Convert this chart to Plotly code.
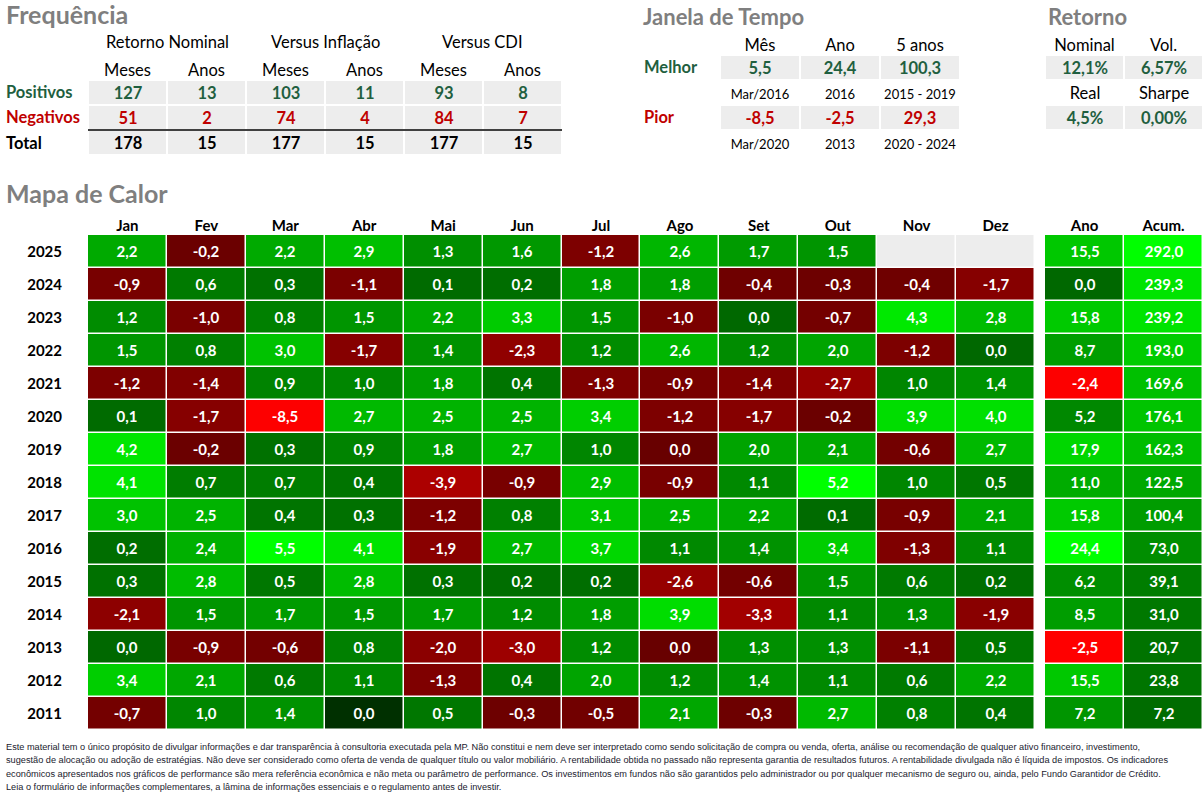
import plotly.graph_objects as go

W, H = 1203, 808
FONT = "Lato, 'Open Sans', sans-serif"
GREEN_TXT = "#1F5F3F"
RED_TXT = "#C00000"
GRAY_FILL = "#EDEDED"
TITLE_GRAY = "#7F7F7F"
TOP_FS = 16.5

# ---------------- data ----------------
months = ["Jan", "Fev", "Mar", "Abr", "Mai", "Jun", "Jul", "Ago", "Set", "Out", "Nov", "Dez"]
years = ["2025", "2024", "2023", "2022", "2021", "2020", "2019", "2018",
         "2017", "2016", "2015", "2014", "2013", "2012", "2011"]
# monthly returns (%); 0.01 / -0.01 = shown as "0,0" with positive / negative sign
monthly = [
    [2.2, -0.2, 2.2, 2.9, 1.3, 1.6, -1.2, 2.6, 1.7, 1.5, None, None],
    [-0.9, 0.6, 0.3, -1.1, 0.1, 0.2, 1.8, 1.8, -0.4, -0.3, -0.4, -1.7],
    [1.2, -1.0, 0.8, 1.5, 2.2, 3.3, 1.5, -1.0, 0.01, -0.7, 4.3, 2.8],
    [1.5, 0.8, 3.0, -1.7, 1.4, -2.3, 1.2, 2.6, 1.2, 2.0, -1.2, 0.01],
    [-1.2, -1.4, 0.9, 1.0, 1.8, 0.4, -1.3, -0.9, -1.4, -2.7, 1.0, 1.4],
    [0.1, -1.7, -8.5, 2.7, 2.5, 2.5, 3.4, -1.2, -1.7, -0.2, 3.9, 4.0],
    [4.2, -0.2, 0.3, 0.9, 1.8, 2.7, 1.0, -0.01, 2.0, 2.1, -0.6, 2.7],
    [4.1, 0.7, 0.7, 0.4, -3.9, -0.9, 2.9, -0.9, 1.1, 5.2, 1.0, 0.5],
    [3.0, 2.5, 0.4, 0.3, -1.2, 0.8, 3.1, 2.5, 2.2, 0.1, -0.9, 2.1],
    [0.2, 2.4, 5.5, 4.1, -1.9, 2.7, 3.7, 1.1, 1.4, 3.4, -1.3, 1.1],
    [0.3, 2.8, 0.5, 2.8, 0.3, 0.2, 0.2, -2.6, -0.6, 1.5, 0.6, 0.2],
    [-2.1, 1.5, 1.7, 1.5, 1.7, 1.2, 1.8, 3.9, -3.3, 1.1, 1.3, -1.9],
    [0.01, -0.9, -0.6, 0.8, -2.0, -3.0, 1.2, -0.01, 1.3, 1.3, -1.1, 0.5],
    [3.4, 2.1, 0.6, 1.1, -1.3, 0.4, 2.0, 1.2, 1.4, 1.1, 0.6, 2.2],
    [-0.7, 1.0, 1.4, 0.0, 0.5, -0.3, -0.5, 2.1, -0.3, 2.7, 0.8, 0.4],
]
summary_cols = ["Ano", "Acum."]
ano = [15.5, 0.01, 15.8, 8.7, -2.4, 5.2, 17.9, 11.0, 15.8, 24.4, 6.2, 8.5, -2.5, 15.5, 7.2]
acum = [292.0, 239.3, 239.2, 193.0, 169.6, 176.1, 162.3, 122.5, 100.4, 73.0, 39.1, 31.0, 20.7, 23.8, 7.2]

freq_groups = ["Retorno Nominal", "Versus Inflação", "Versus CDI"]
freq_sub = ["Meses", "Anos", "Meses", "Anos", "Meses", "Anos"]
freq_rows = ["Positivos", "Negativos", "Total"]
freq_pos = [127, 13, 103, 11, 93, 8]
freq_neg = [51, 2, 74, 4, 84, 7]
freq_total = [178, 15, 177, 15, 177, 15]

janela_cols = ["Mês", "Ano", "5 anos"]
janela_rows = ["Melhor", "Pior"]
melhor_vals = [5.5, 24.4, 100.3]
melhor_periodos = ["Mar/2016", "2016", "2015 - 2019"]
pior_vals = [-8.5, -2.5, 29.3]
pior_periodos = ["Mar/2020", "2013", "2020 - 2024"]

ret_labels_top = ["Nominal", "Vol."]
ret_labels_mid = ["Real", "Sharpe"]
ret_vals_top = ["12,1%", "6,57%"]
ret_vals_bot = ["4,5%", "0,00%"]

titles = ["Frequência", "Janela de Tempo", "Retorno", "Mapa de Calor"]

disclaimer = [
    "Este material tem o único propósito de divulgar informações e dar transparência à consultoria executada pela MP. Não constitui e nem deve ser interpretado como sendo solicitação de compra ou venda, oferta, análise ou recomendação de qualquer ativo financeiro, investimento,",
    "sugestão de alocação ou adoção de estratégias. Não deve ser considerado como oferta de venda de qualquer título ou valor mobiliário. A rentabilidade obtida no passado não representa garantia de resultados futuros. A rentabilidade divulgada não é líquida de impostos. Os indicadores",
    "econômicos apresentados nos gráficos de performance são mera referência econômica e não meta ou parâmetro de performance. Os investimentos em fundos não são garantidos pelo administrador ou por qualquer mecanismo de seguro ou, ainda, pelo Fundo Garantidor de Crédito.",
    "Leia o formulário de informações complementares, a lâmina de informações essenciais e o regulamento antes de investir.",
]


# ---------------- helpers ----------------
def fmt(v, d=1):
    s = f"{v:.{d}f}".replace(".", ",")
    if float(s.replace(",", ".")) == 0:
        s = s.lstrip("-")
    return s


def color_for(v, pos_k, neg_k):
    if v == 0:
        return "rgb(0,48,0)"
    if v > 0:
        return f"rgb(0,{min(255, round(104 + pos_k * v))},0)"
    return f"rgb({min(255, round(104 + neg_k * abs(v)))},0,0)"


def scale_from(vals, pos_k, neg_k):
    flat = [v for v in vals if v is not None]
    zmin, zmax = min(flat), max(flat)
    bps = [zmin, zmax] + [b for b in (-(151 / neg_k), -1e-3, 0.0, 1e-3, 151 / pos_k) if zmin < b < zmax]
    bps = sorted(set(bps))
    return zmin, zmax, [[(b - zmin) / (zmax - zmin), color_for(b, pos_k, neg_k)] for b in bps]


def span(t, color, bold=True, size=None):
    st = f"color:{color}"
    if size:
        st += f";font-size:{size}px"
    t = f"<b>{t}</b>" if bold else t
    return f"<span style='{st}'>{t}</span>"


def xd(a, b):
    return [a / W, b / W]


def yd(top, bottom):
    return [1 - bottom / H, 1 - top / H]


def yp(px):
    return 1 - px / H


fig = go.Figure()
GRAYSCALE = [[0, "white"], [1, GRAY_FILL]]

# ---------------- heat map (months) ----------------
flat_m = [v for row in monthly for v in row]
zmin, zmax, cs_m = scale_from(flat_m, 30, 17.5)
mask = [[1 if v is None else None for v in row] for row in monthly]
fig.add_trace(go.Heatmap(z=mask, x=months, y=years, colorscale=GRAYSCALE, zmin=0, zmax=1,
                         showscale=False, xgap=1.5, ygap=1.5, hoverinfo="skip",
                         xaxis="x", yaxis="y"))
fig.add_trace(go.Heatmap(
    z=monthly, x=months, y=years, colorscale=cs_m, zmin=zmin, zmax=zmax, showscale=False,
    text=[["" if v is None else f"<b>{fmt(v)}</b>" for v in row] for row in monthly],
    texttemplate="%{text}", textfont=dict(family=FONT, size=15, color="white"),
    xgap=1.5, ygap=1.5, hoverinfo="skip", xaxis="x", yaxis="y"))

# ---------------- Ano / Acum (own colour scales, own x axes) ----------------
for axname, name, vals, pk, nk in (("x2", summary_cols[0], ano, 6.2, 62),
                                   ("x6", summary_cols[1], acum, 0.52, 20)):
    a, b, cs = scale_from(vals, pk, nk)
    fig.add_trace(go.Heatmap(
        z=[[v] for v in vals], x=[name], y=years, colorscale=cs, zmin=a, zmax=b, showscale=False,
        text=[[f"<b>{fmt(v)}</b>"] for v in vals], texttemplate="%{text}",
        textfont=dict(family=FONT, size=15, color="white"),
        xgap=1.5, ygap=1.5, hoverinfo="skip", xaxis=axname, yaxis="y"))

# ---------------- Frequencia ----------------
fq_text = [[span(v, GREEN_TXT) for v in freq_pos],
           [span(v, RED_TXT) for v in freq_neg],
           [span(v, "black") for v in freq_total]]
fig.add_trace(go.Heatmap(
    z=[[1] * 6 for _ in range(3)], x=list(range(6)), y=freq_rows, colorscale=GRAYSCALE,
    zmin=0, zmax=1, showscale=False, text=fq_text, texttemplate="%{text}",
    textfont=dict(family=FONT, size=TOP_FS, color="black"),
    xgap=2, ygap=2, hoverinfo="skip", xaxis="x3", yaxis="y3"))

# ---------------- Janela de Tempo ----------------
jn_text = [[span(fmt(v), GREEN_TXT) for v in melhor_vals],
           [span(p, "black", bold=False, size=13) for p in melhor_periodos],
           [span(fmt(v), RED_TXT) for v in pior_vals],
           [span(p, "black", bold=False, size=13) for p in pior_periodos]]
fig.add_trace(go.Heatmap(
    z=[[1] * 3, [0] * 3, [1] * 3, [0] * 3], x=janela_cols, y=[0, 1, 2, 3], colorscale=GRAYSCALE,
    zmin=0, zmax=1, showscale=False, text=jn_text, texttemplate="%{text}",
    textfont=dict(family=FONT, size=TOP_FS, color="black"),
    xgap=2, ygap=2, hoverinfo="skip", xaxis="x4", yaxis="y4"))

# ---------------- Retorno ----------------
rt_text = [[span(v, GREEN_TXT) for v in ret_vals_top],
           [span(v, "black", bold=False) for v in ret_labels_mid],
           [span(v, GREEN_TXT) for v in ret_vals_bot]]
fig.add_trace(go.Heatmap(
    z=[[1] * 2, [0] * 2, [1] * 2], x=ret_labels_top, y=[0, 1, 2], colorscale=GRAYSCALE,
    zmin=0, zmax=1, showscale=False, text=rt_text, texttemplate="%{text}",
    textfont=dict(family=FONT, size=TOP_FS, color="black"),
    xgap=2, ygap=2, hoverinfo="skip", xaxis="x5", yaxis="y5"))

# ---------------- axes ----------------
common = dict(showgrid=False, zeroline=False, showline=False, ticks="", fixedrange=True)
hdr_font = dict(family=FONT, size=15, color="black")
top_font = dict(family=FONT, size=TOP_FS, color="black")
fig.update_layout(
    xaxis=dict(domain=xd(88, 1035), anchor="y", side="top", tickmode="array", tickvals=months,
               ticktext=[f"<b>{m}</b>" for m in months], tickfont=hdr_font, **common),
    yaxis=dict(domain=yd(235, 730), anchor="x", autorange="reversed", tickmode="array",
               tickvals=years, ticktext=[f"<b>{y}</b>" for y in years], ticklabelstandoff=25,
               tickfont=hdr_font, **common),
    xaxis2=dict(domain=xd(1045, 1124), anchor="y", side="top", range=[-0.5, 0.5], tickmode="array",
                tickvals=[summary_cols[0]], ticktext=[f"<b>{summary_cols[0]}</b>"],
                tickfont=hdr_font, **common),
    xaxis6=dict(domain=xd(1124, 1203), anchor="y", side="top", range=[-0.5, 0.5], tickmode="array",
                tickvals=[summary_cols[1]], ticktext=[f"<b>{summary_cols[1]}</b>"],
                tickfont=hdr_font, **common),
    xaxis3=dict(domain=xd(88, 562), anchor="y3", side="top", range=[-0.5, 5.5], tickmode="array",
                tickvals=list(range(6)), ticktext=freq_sub, tickfont=top_font, **common),
    yaxis3=dict(domain=yd(80, 155), anchor="x3", autorange="reversed", showticklabels=False, **common),
    xaxis4=dict(domain=xd(720, 960), anchor="y4", side="top", tickmode="array",
                tickvals=janela_cols, ticktext=janela_cols, tickfont=top_font, **common),
    yaxis4=dict(domain=yd(55, 155), anchor="x4", range=[3.5, -0.5], showticklabels=False, **common),
    xaxis5=dict(domain=xd(1045, 1203), anchor="y5", side="top", tickmode="array",
                tickvals=ret_labels_top, ticktext=ret_labels_top, tickfont=top_font, **common),
    yaxis5=dict(domain=yd(55, 130), anchor="x5", range=[2.5, -0.5], showticklabels=False, **common),
)

# ---------------- annotations ----------------
ann = []
title_spec = [(4, 14, 25), (641, 16, 22), (1046, 16, 22), (4, 193, 25)]
for t, (x, y, s) in zip(titles, title_spec):
    ann.append(dict(text=f"<b>{t}</b>", x=x / W, y=yp(y), xref="paper", yref="paper",
                    xanchor="left", yanchor="middle", showarrow=False,
                    font=dict(family=FONT, size=s, color=TITLE_GRAY)))
group_centers = [167, 325, 483]
for g, cx in zip(freq_groups, group_centers):
    ann.append(dict(text=g, x=cx / W, y=yp(42), xref="paper", yref="paper",
                    xanchor="center", yanchor="middle", showarrow=False, font=top_font))
for r, c in zip(freq_rows, [GREEN_TXT, RED_TXT, "black"]):
    ann.append(dict(text=f"<b>{r}</b>", x=4 / W, y=r, xref="paper", yref="y3",
                    xanchor="left", yanchor="middle", showarrow=False,
                    font=dict(family=FONT, size=TOP_FS, color=c)))
for r, yy, c in zip(janela_rows, [0, 2], [GREEN_TXT, RED_TXT]):
    ann.append(dict(text=f"<b>{r}</b>", x=642 / W, y=yy, xref="paper", yref="y4",
                    xanchor="left", yanchor="middle", showarrow=False,
                    font=dict(family=FONT, size=TOP_FS, color=c)))
for i, line in enumerate(disclaimer):
    ann.append(dict(text=line, x=4 / W, y=yp(747 + 13.3 * i), xref="paper", yref="paper",
                    xanchor="left", yanchor="middle", showarrow=False,
                    font=dict(family="Liberation Sans, Arial", size=9.2, color="#1a1a2e")))

fig.update_layout(
    width=W, height=H, margin=dict(l=0, r=0, t=0, b=0),
    paper_bgcolor="white", plot_bgcolor="white", showlegend=False,
    annotations=ann,
    shapes=[dict(type="line", xref="x3", yref="y3", x0=-0.5, x1=5.5, y0=1.5, y1=1.5,
                 line=dict(color="black", width=1.5))],
)

fig.write_html("out.html", config={"displayModeBar": False},
               post_script="document.body.style.margin='0px';")
